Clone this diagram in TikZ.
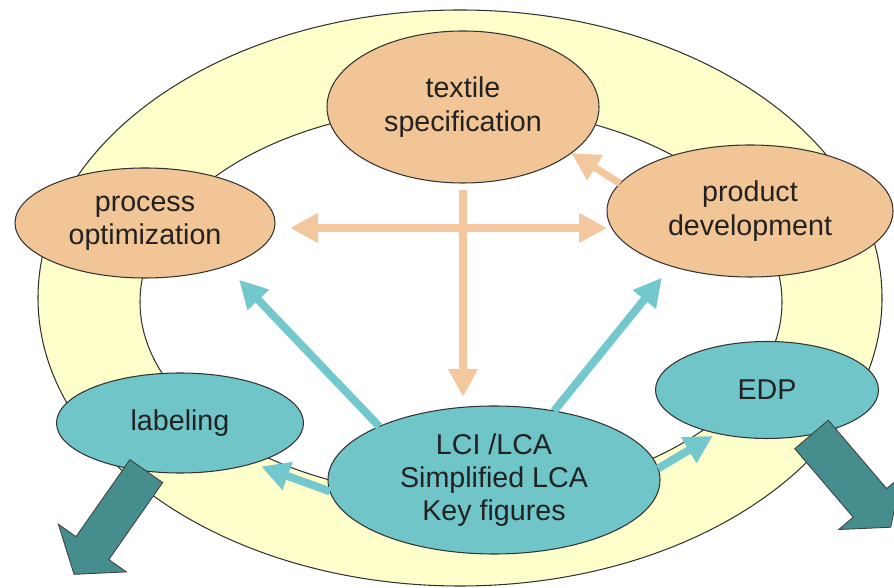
\documentclass[tikz,border=0pt]{standalone}
\usepackage{fontspec}
\setmainfont{Liberation Sans}
\usepackage{tikz}
\usetikzlibrary{shapes.geometric,arrows.meta,calc}
\definecolor{ring1}{HTML}{FFFFCC}
\definecolor{peach1}{HTML}{F2C597}
\definecolor{peach2}{HTML}{F4C89E}
\definecolor{teal1}{HTML}{6FC5C8}
\definecolor{teal2}{HTML}{72C8CC}
\definecolor{dteal1}{HTML}{468E8E}
\definecolor{text1}{HTML}{222222}

\begin{document}
\begin{tikzpicture}[
    >={Triangle[length=0.56cm,width=0.56cm]},
    bub/.style={ellipse, draw=black!80, line width=0.6pt,
                inner sep=0pt, outer sep=0pt, align=center, text=text1,
                font=\fontsize{16.3}{19}\selectfont},
    peachnode/.style={bub, fill=peach1},
    tealnode/.style={bub, fill=teal1},
    parr/.style={->, line width=4pt, draw=peach2, color=peach2},
    tarr/.style={->, line width=4.5pt, draw=teal2, color=teal2},
    blk/.style={draw=black!75, line width=0.5pt, fill=dteal1},
]
\useasboundingbox (0,0) rectangle (17.88,11.76);

% yellow ring behind everything
\draw[black!80, line width=0.6pt, fill=ring1, even odd rule]
    (9.20,5.80) ellipse (8.44 and 5.76)
    (9.22,5.72) ellipse (6.42 and 3.90);

% design stages
\node[peachnode, minimum width=5.44cm, minimum height=3.04cm]
    (tex) at (9.26,9.62) {textile\\specification};
\node[peachnode, minimum width=5.20cm, minimum height=2.20cm]
    (proc) at (2.90,7.30) {process\\optimization};
\node[peachnode, minimum width=5.72cm, minimum height=2.64cm]
    (prod) at (15.00,7.54) {product\\development};

% assessment and communication
\node[tealnode, minimum width=4.94cm, minimum height=2.00cm]
    (lab) at (3.60,3.30) {labeling};
\node[tealnode, minimum width=4.46cm, minimum height=1.94cm]
    (edp) at (15.34,3.96) {EDP};
\node[tealnode, minimum width=6.64cm, minimum height=2.96cm]
    (lci) at (9.88,2.16) {LCI /LCA\\Simplified LCA\\Key figures};

% peach links
\draw[parr, shorten <=0.14cm, shorten >=0.18cm]
    (tex.south) -- (tex.south |- lci.north);
\coordinate (hl) at ([yshift=-1mm]proc.east);
\draw[parr, <->, shorten <=0.30cm] (hl) -- (hl -| prod.west);
\draw[parr] (prod.168) -- (tex.-23);

% teal links out of the LCA
\draw[tarr, shorten >=0.38cm] (lci.155) -- (proc.-28);
\draw[tarr, shorten >=0.30cm] (lci.49) -- (prod.215);
\draw[tarr, shorten >=0.18cm] (lci.184) -- (lab.-29);
\draw[tarr, shorten >=0.10cm] (lci.4) -- (edp.221);

% outgoing block arrows
\begin{scope}[shift={(lab.235)}, rotate=235]
  \draw[blk] (0,-0.40) -- (1.88,-0.40) -- (1.88,-0.83) -- (2.52,0)
      -- (1.88,0.83) -- (1.88,0.40) -- (0,0.40) -- cycle;
\end{scope}
\begin{scope}[shift={(edp.-45)}, rotate=-49.5]
  \draw[blk] (0,-0.44) -- (1.80,-0.44) -- (1.80,-0.82) -- (2.44,0)
      -- (1.80,0.82) -- (1.80,0.44) -- (0,0.44) -- cycle;
\end{scope}
\end{tikzpicture}
\end{document}
